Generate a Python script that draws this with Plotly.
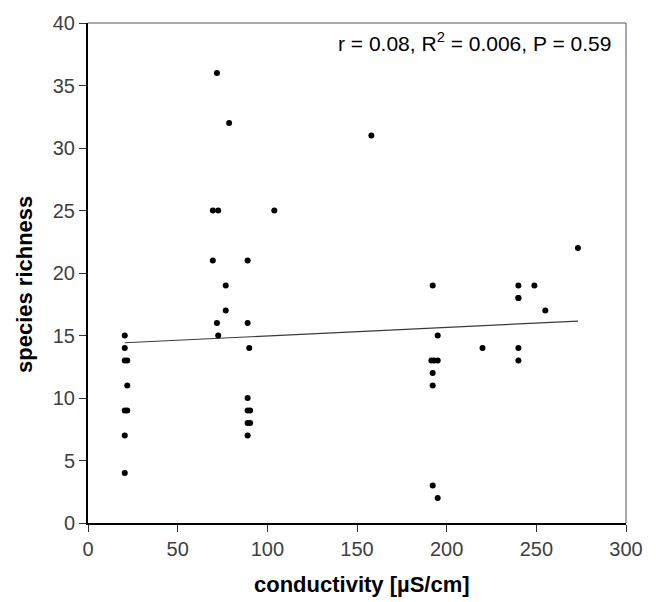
import plotly.graph_objects as go

# conductivity [µS/cm]
conductivity = [
    20.5, 20.5, 20.5, 21.9, 21.9, 20.5, 21.9, 20.5, 20.5,
    71.9, 78.7, 69.6, 72.6, 69.6, 76.8, 76.8, 71.9, 72.6,
    89.0, 89.0, 89.9, 89.0, 89.0, 90.4, 89.0, 90.4, 89.0,
    103.9, 158.0,
    192.2, 195.0, 191.5, 193.0, 195.0, 192.2, 192.2, 192.2, 195.0,
    220.0, 240.0, 240.0, 240.0, 240.0, 240.0, 248.9, 255.0, 273.2,
]
# species richness
richness = [
    15, 14, 13, 13, 11, 9, 9, 7, 4,
    36, 32, 25, 25, 21, 19, 17, 16, 15,
    21, 16, 14, 10, 9, 9, 8, 8, 7,
    25, 31,
    19, 15, 13, 13, 13, 12, 11, 3, 2,
    14, 19, 18, 18, 14, 13, 19, 17, 22,
]
# regression line
fit_x = [20.5, 273.2]
fit_y = [14.42, 16.15]

stats_text = "r = 0.08, R<sup>2</sup> = 0.006, P = 0.59"
x_title = "conductivity [µS/cm]"
y_title = "species richness"

FONT = "Liberation Sans, Arial, sans-serif"

fig = go.Figure()
fig.add_trace(go.Scatter(
    x=fit_x, y=fit_y, mode="lines",
    line=dict(color="#3a3a3a", width=1.2),
    showlegend=False, hoverinfo="skip",
))
fig.add_trace(go.Scatter(
    x=conductivity, y=richness, mode="markers",
    marker=dict(color="black", size=6, line=dict(width=0)),
    showlegend=False,
))

axis_common = dict(
    showgrid=False, zeroline=False,
    showline=True, linecolor="black", linewidth=2,
    ticks="outside", ticklen=7, tickwidth=1, tickcolor="#333",
    tickfont=dict(family=FONT, size=20, color="#404040"),
)

fig.update_xaxes(range=[0, 300], tickvals=[0, 50, 100, 150, 200, 250, 300],
                 **axis_common)
fig.update_yaxes(range=[0, 40], tickvals=[0, 5, 10, 15, 20, 25, 30, 35, 40],
                 **axis_common)

# frame top and right (thin grey)
fig.add_shape(type="line", xref="paper", yref="paper", x0=0, x1=1, y0=1, y1=1,
              line=dict(color="#555", width=1))
fig.add_shape(type="line", xref="paper", yref="paper", x0=1, x1=1, y0=0, y1=1,
              line=dict(color="#555", width=1))

fig.add_annotation(text=stats_text, xref="paper", yref="paper",
                   x=0.975, y=0.962, xanchor="right", yanchor="middle",
                   showarrow=False,
                   font=dict(family=FONT, size=21, color="black"))
fig.add_annotation(text="<b>%s</b>" % x_title, xref="paper", yref="paper",
                   x=0.509, y=-0.123, xanchor="center", yanchor="middle",
                   showarrow=False,
                   font=dict(family=FONT, size=22, color="black"))
fig.add_annotation(text="<b>%s</b>" % y_title, xref="paper", yref="paper",
                   x=-0.118, y=0.477, xanchor="center", yanchor="middle",
                   textangle=-90, showarrow=False,
                   font=dict(family=FONT, size=22, color="black"))

fig.update_layout(
    width=656, height=602,
    margin=dict(l=88, r=30, t=18, b=79),
    paper_bgcolor="white", plot_bgcolor="white",
)

fig.write_html("out.html")
